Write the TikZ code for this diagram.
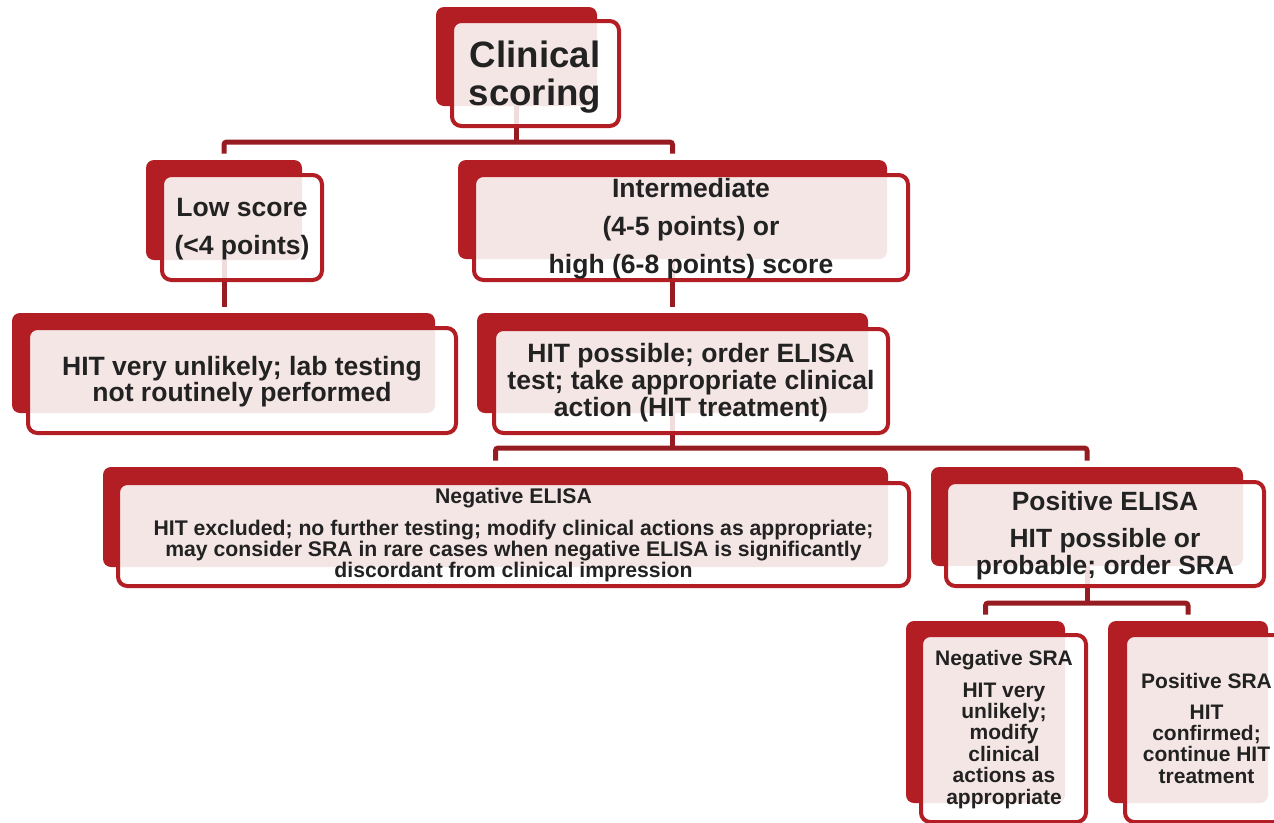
\documentclass[tikz,border=0pt]{standalone}
\usepackage{fontspec}
\setmainfont{Liberation Sans}
\usetikzlibrary{fit}
\definecolor{cardred}{HTML}{B21E24}
\definecolor{wirered}{HTML}{961C21}
\definecolor{pinkfill}{HTML}{F5E6E6}
\definecolor{stubpink}{HTML}{F1DCDC}
\definecolor{txtgray}{HTML}{222222}
\newcommand\card[9]{%
  \coordinate (#1-bnw) at (#2,#3);
  \coordinate (#1-bse) at (#4,#5);
  \coordinate (#1-fnw) at (#6,#7);
  \coordinate (#1-fse) at (#8,#9);
  \fill[cardred, rounded corners=6pt] (#1-bnw) rectangle (#1-bse);
  \fill[white, rounded corners=7pt] ({#6+2},{#7+2}) rectangle ({#8-2},{#9-2});
  \begin{scope}
    \clip[rounded corners=7pt] ({#6+2},{#7+2}) rectangle ({#8-2},{#9-2});
    \fill[pinkfill, rounded corners=6pt] (#1-bnw) rectangle (#1-bse);
  \end{scope}
  \draw[cardred, line width=3pt, rounded corners=7pt] ({#6+2},{#7+2}) rectangle ({#8-2},{#9-2});
  \node[inner sep=0pt, fit=(#1-bnw)(#1-bse)] (#1) {};
  \node[inner sep=0pt, fit=(#1-fnw)(#1-fse)] (#1-f) {};
  \coordinate (#1-fb) at (#1.south |- #1-f.south);
  \coordinate (#1-top) at ([yshift=4.5pt]#1.north);
}
\newcommand\txtstack[2]{\vtop{\baselineskip=#1\lineskiplimit=-\maxdimen\lineskip=0pt\halign{\hfil##\hfil\cr#2\crcr}}}
\newcommand\fnt[1]{\fontsize{#1}{#1}\selectfont\bfseries}
\tikzset{
  txt/.style={anchor=base, inner sep=0pt, text=txtgray},
  wire/.style={draw=wirered, line width=3.75pt, rounded corners=2pt},
  stub/.style={draw=stubpink, line width=3.75pt}
}
\begin{document}
\begin{tikzpicture}[x=0.75pt,y=-0.75pt]
\useasboundingbox (0,0) rectangle (1274,822);
\clip (0,0) rectangle (1274,822);

\card{cs}{436}{7}{597}{106}{450}{19}{621}{128}
\card{low}{146}{160}{302}{260}{160}{173}{324}{282}
\card{inter}{458}{160}{887}{259}{472}{173}{910}{282}
\card{unl}{12}{313}{435}{413}{26}{326}{458}{435}
\card{poss}{477}{313}{868}{413}{492}{327}{890}{435}
\card{negE}{103}{467}{888}{567}{116}{481}{911}{588}
\card{posE}{931}{467}{1243}{566}{944}{480}{1266}{588}
\card{negS}{906}{621}{1065}{803}{919}{633}{1088}{824}
\card{posS}{1108}{621}{1268}{803}{1123}{633}{1290}{824}

% faint stubs seen through the front boxes
\foreach \n in {cs,low,inter,poss,posE}
  \draw[stub] (\n.south) -- ([yshift=3pt]\n-fb);

% connectors
\coordinate (bus1) at (0,142);
\coordinate (bus2) at (0,448);
\coordinate (bus3) at (0,603);
\draw[wire] (cs-fb) -- (cs.south |- bus1);
\draw[wire] (low-top) -- (low.north |- bus1) -- (inter.north |- bus1) -- (inter-top);
\draw[wire] (low-fb) -- (low.south |- unl-top);
\draw[wire] (inter-fb) -- (inter.south |- poss-top);
\draw[wire] (poss-fb) -- (poss.south |- bus2);
\draw[wire] (negE-top) -- (negE.north |- bus2) -- (posE.north |- bus2) -- (posE-top);
\draw[wire] (posE-fb) -- (posE.south |- bus3);
\draw[wire] (negS-top) -- (negS.north |- bus3) -- (posS.north |- bus3) -- (posS-top);

% texts
\node[txt, font=\fnt{27.5pt}] (cs-t) at (535,67)
  {\txtstack{28.5pt}{Clinical\cr scoring}};
\node[txt, font=\fnt{19.9pt}] (low-t) at (242,216.7)
  {\txtstack{28.1pt}{Low score\cr (<4 points)}};
\node[txt, font=\fnt{19.9pt}] (inter-t) at (691,197)
  {\txtstack{28.5pt}{Intermediate\cr (4-5 points) or\cr high (6-8 points) score}};
\node[txt, font=\fnt{19.9pt}] (unl-t) at (242,375)
  {\txtstack{20pt}{HIT very unlikely; lab testing\cr not routinely performed}};
\node[txt, font=\fnt{19.9pt}] (poss-t) at (691,362)
  {\txtstack{20.25pt}{HIT possible; order ELISA\cr test; take appropriate clinical\cr action (HIT treatment)}};
\node[txt, font=\fnt{15.9pt}] (negE-t) at (513.5,503)
  {\txtstack{15.75pt}{Negative ELISA\cr\noalign{\vskip 8.25pt}
   HIT excluded; no further testing; modify clinical actions as appropriate;\cr
   may consider SRA in rare cases when negative ELISA is significantly\cr
   discordant from clinical impression}};
\node[txt, font=\fnt{19.8pt}] (posE-t) at (1105,510)
  {\txtstack{20.25pt}{Positive ELISA\cr\noalign{\vskip 7.5pt}
   HIT possible or\cr probable; order SRA}};
\node[txt, font=\fnt{15.75pt}] (negS-t) at (1004,665)
  {\txtstack{16.1pt}{Negative SRA\cr\noalign{\vskip 7.9pt}
   HIT very\cr unlikely;\cr modify\cr clinical\cr actions as\cr appropriate}};
\node[txt, font=\fnt{15.75pt}] (posS-t) at (1206.5,688)
  {\txtstack{16pt}{Positive SRA\cr\noalign{\vskip 7.3pt}
   HIT\cr confirmed;\cr continue HIT\cr treatment}};
\end{tikzpicture}
\end{document}
